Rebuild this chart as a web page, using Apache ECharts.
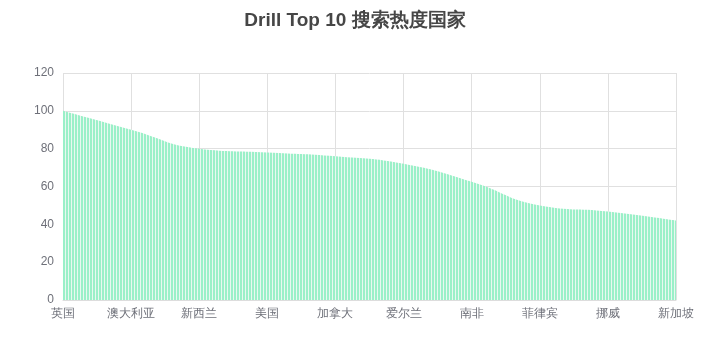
<!DOCTYPE html>
<html lang="zh" style="height: 100%">
<head>
    <meta charset="UTF-8">
</head>
<body style="height: 100%; margin: 0">
  <div id="container" style="width: 710px; height: 353px"></div>

  <script type="text/javascript" src="https://fastly.jsdelivr.net/npm/echarts@6/dist/echarts.min.js"></script>
  <script type="text/javascript">
    var countries = ['英国', '澳大利亚', '新西兰', '美国', '加拿大', '爱尔兰', '南非', '菲律宾', '挪威', '新加坡'];
    var heat = [100, 90, 80, 78, 76, 72, 62.5, 50, 46.8, 42];
    var yTicks = { min: 0, max: 120, interval: 20 };

    // striped fill: 2px green, 1px pale
    var stripe = document.createElement('canvas');
    stripe.width = 3;
    stripe.height = 4;
    var ctx = stripe.getContext('2d');
    ctx.fillStyle = '#E8F8F0';
    ctx.fillRect(0, 0, 3, 4);
    ctx.fillStyle = '#9AF0C8';
    ctx.fillRect(0, 0, 2, 4);

    var myChart = echarts.init(document.getElementById('container'), null, { renderer: 'canvas' });
    var option = {
      title: {
        text: 'Drill Top 10 搜索热度国家',
        left: 'center',
        top: 6,
        textStyle: { fontSize: 19, fontWeight: 'bold', color: '#464646' }
      },
      grid: { left: 63, right: 34, top: 73, bottom: 53 },
      xAxis: {
        type: 'category',
        data: countries,
        boundaryGap: false,
        axisLine: { lineStyle: { color: '#ddd' } },
        axisTick: { show: false },
        axisLabel: { color: '#6E7079', fontSize: 12, margin: 8, interval: 0 },
        splitLine: { show: true, lineStyle: { color: '#e0e0e0' } }
      },
      yAxis: {
        type: 'value',
        min: yTicks.min,
        max: yTicks.max,
        interval: yTicks.interval,
        axisLine: { show: false },
        axisTick: { show: false },
        axisLabel: { color: '#6E7079', fontSize: 12, margin: 9 },
        splitLine: { lineStyle: { color: '#e0e0e0' } }
      },
      series: [{
        type: 'line',
        data: heat,
        smooth: true,
        symbol: 'none',
        lineStyle: { width: 0 },
        areaStyle: {
          opacity: 1,
          color: { image: stripe, repeat: 'repeat' }
        }
      }]
    };
    myChart.setOption(option);
  </script>
</body>
</html>
